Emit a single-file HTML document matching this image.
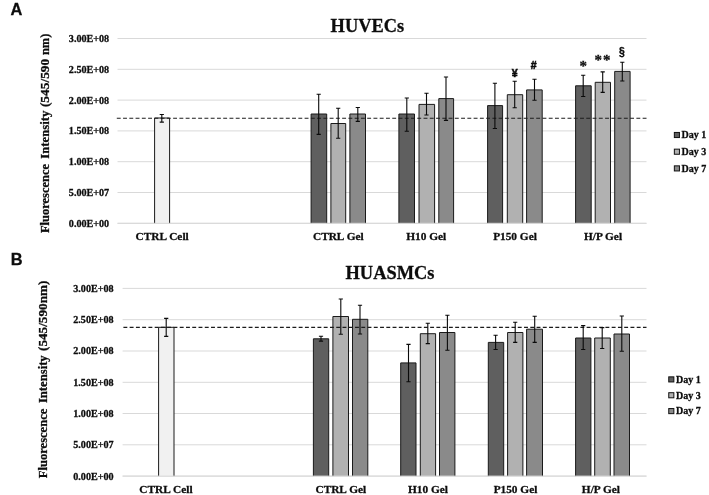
<!DOCTYPE html>
<html><head><meta charset="utf-8"><title>Figure</title>
<style>
html,body{margin:0;padding:0;background:#fff;}
svg{display:block;opacity:0.999;will-change:transform;}
text{fill:#0c0c0c;stroke:#0c0c0c;stroke-width:0.28px;}
.b{font-family:"Liberation Serif",serif;font-weight:bold;}
.s{font-family:"Liberation Sans",sans-serif;font-weight:bold;}
</style></head><body>
<svg width="709" height="495" viewBox="0 0 709 495">
<rect width="709" height="495" fill="#fff"/>
<line x1="117.5" x2="646.5" y1="38.5" y2="38.5" stroke="#d9d9d9" stroke-width="1"/>
<line x1="117.5" x2="646.5" y1="69.3" y2="69.3" stroke="#d9d9d9" stroke-width="1"/>
<line x1="117.5" x2="646.5" y1="100.1" y2="100.1" stroke="#d9d9d9" stroke-width="1"/>
<line x1="117.5" x2="646.5" y1="130.9" y2="130.9" stroke="#d9d9d9" stroke-width="1"/>
<line x1="117.5" x2="646.5" y1="161.7" y2="161.7" stroke="#d9d9d9" stroke-width="1"/>
<line x1="117.5" x2="646.5" y1="192.5" y2="192.5" stroke="#d9d9d9" stroke-width="1"/>
<line x1="117.5" x2="646.5" y1="223.3" y2="223.3" stroke="#d9d9d9" stroke-width="1"/>
<path d="M154.6 223.3V118H169.6V223.3" fill="#f1f1f1" stroke="#1a1a1a" stroke-width="1"/>
<path d="M311.1 223.3V114H326.7V223.3" fill="#5f5f5f" stroke="#1a1a1a" stroke-width="1"/>
<path d="M330.9 223.3V123.5H345.7V223.3" fill="#b1b1b1" stroke="#1a1a1a" stroke-width="1"/>
<path d="M349.9 223.3V114H365.5V223.3" fill="#8a8a8a" stroke="#1a1a1a" stroke-width="1"/>
<path d="M398.9 223.3V114H414.5V223.3" fill="#5f5f5f" stroke="#1a1a1a" stroke-width="1"/>
<path d="M419 223.3V104.4H434.6V223.3" fill="#b1b1b1" stroke="#1a1a1a" stroke-width="1"/>
<path d="M438.8 223.3V98.6H453.6V223.3" fill="#8a8a8a" stroke="#1a1a1a" stroke-width="1"/>
<path d="M487.6 223.3V105.6H502.6V223.3" fill="#5f5f5f" stroke="#1a1a1a" stroke-width="1"/>
<path d="M507.3 223.3V94.7H522.7V223.3" fill="#b1b1b1" stroke="#1a1a1a" stroke-width="1"/>
<path d="M526.6 223.3V89.9H542.2V223.3" fill="#8a8a8a" stroke="#1a1a1a" stroke-width="1"/>
<path d="M575.6 223.3V85.8H591.2V223.3" fill="#5f5f5f" stroke="#1a1a1a" stroke-width="1"/>
<path d="M595.2 223.3V82.3H610.5V223.3" fill="#b1b1b1" stroke="#1a1a1a" stroke-width="1"/>
<path d="M614.7 223.3V71.4H630.1V223.3" fill="#8a8a8a" stroke="#1a1a1a" stroke-width="1"/>
<line x1="117.5" x2="646.5" y1="223.3" y2="223.3" stroke="#d9d9d9" stroke-width="1"/>
<line x1="116.8" x2="646.5" y1="118.2" y2="118.2" stroke="#1c1c1c" stroke-width="1.15" stroke-dasharray="3.9 2.36"/>
<path d="M161.8 114.5V122.1M159.7 114.5H163.9M159.7 122.1H163.9" stroke="#0a0a0a" stroke-width="1.1" fill="none"/>
<path d="M318.7 94.3V134.4M316.6 94.3H320.8M316.6 134.4H320.8" stroke="#0a0a0a" stroke-width="1.1" fill="none"/>
<path d="M338.2 108.2V138.2M336.1 108.2H340.3M336.1 138.2H340.3" stroke="#0a0a0a" stroke-width="1.1" fill="none"/>
<path d="M357.8 107.5V121.4M355.7 107.5H359.9M355.7 121.4H359.9" stroke="#0a0a0a" stroke-width="1.1" fill="none"/>
<path d="M406.8 98V131.3M404.7 98H408.9M404.7 131.3H408.9" stroke="#0a0a0a" stroke-width="1.1" fill="none"/>
<path d="M426.5 93.2V115M424.4 93.2H428.6M424.4 115H428.6" stroke="#0a0a0a" stroke-width="1.1" fill="none"/>
<path d="M446 77V120.4M443.9 77H448.1M443.9 120.4H448.1" stroke="#0a0a0a" stroke-width="1.1" fill="none"/>
<path d="M494.9 83.3V128.5M492.8 83.3H497M492.8 128.5H497" stroke="#0a0a0a" stroke-width="1.1" fill="none"/>
<path d="M514.7 81.3V107.7M512.6 81.3H516.8M512.6 107.7H516.8" stroke="#0a0a0a" stroke-width="1.1" fill="none"/>
<path d="M534.5 79.2V100.3M532.4 79.2H536.6M532.4 100.3H536.6" stroke="#0a0a0a" stroke-width="1.1" fill="none"/>
<path d="M583.2 75.2V96.5M581.1 75.2H585.3M581.1 96.5H585.3" stroke="#0a0a0a" stroke-width="1.1" fill="none"/>
<path d="M602.7 71.9V92.4M600.6 71.9H604.8M600.6 92.4H604.8" stroke="#0a0a0a" stroke-width="1.1" fill="none"/>
<path d="M622.3 62.2V81M620.2 62.2H624.4M620.2 81H624.4" stroke="#0a0a0a" stroke-width="1.1" fill="none"/>
<text x="109.2" y="41.9" text-anchor="end" font-size="10.15" class="b">3.00E+08</text>
<text x="109.2" y="72.7" text-anchor="end" font-size="10.15" class="b">2.50E+08</text>
<text x="109.2" y="103.5" text-anchor="end" font-size="10.15" class="b">2.00E+08</text>
<text x="109.2" y="134.3" text-anchor="end" font-size="10.15" class="b">1.50E+08</text>
<text x="109.2" y="165.1" text-anchor="end" font-size="10.15" class="b">1.00E+08</text>
<text x="109.2" y="195.9" text-anchor="end" font-size="10.15" class="b">5.00E+07</text>
<text x="109.2" y="226.7" text-anchor="end" font-size="10.15" class="b">0.00E+00</text>
<text x="162.1" y="240.3" text-anchor="middle" font-size="11.33" class="b">CTRL Cell</text>
<text x="338.3" y="240.3" text-anchor="middle" font-size="11.33" class="b">CTRL Gel</text>
<text x="426.3" y="240.3" text-anchor="middle" font-size="11.33" class="b">H10 Gel</text>
<text x="515" y="240.3" text-anchor="middle" font-size="11.33" class="b">P150 Gel</text>
<text x="603" y="240.3" text-anchor="middle" font-size="11.33" class="b">H/P Gel</text>
<text x="367.4" y="32.1" text-anchor="middle" font-size="18.4" class="b">HUVECs</text>
<text transform="translate(48.8 233.1) rotate(-90)" textLength="69.2" lengthAdjust="spacingAndGlyphs" font-size="12.7" class="b">Fluorescence</text>
<text transform="translate(48.8 158.7) rotate(-90)" textLength="48.1" lengthAdjust="spacingAndGlyphs" font-size="12.7" class="b">Intensity</text>
<text transform="translate(48.8 107.1) rotate(-90)" textLength="48.3" lengthAdjust="spacingAndGlyphs" font-size="12.7" class="b">(545/590</text>
<text transform="translate(48.8 55.1) rotate(-90)" textLength="21.4" lengthAdjust="spacingAndGlyphs" font-size="12.7" class="b">nm)</text>
<rect x="674.35" y="132.45" width="5.1" height="5.1" fill="#5f5f5f" stroke="#111" stroke-width="1"/>
<text x="681.6" y="138.3" font-size="10" class="b">Day 1</text>
<rect x="674.35" y="149.15" width="5.1" height="5.1" fill="#b1b1b1" stroke="#111" stroke-width="1"/>
<text x="681.6" y="155" font-size="10" class="b">Day 3</text>
<rect x="674.35" y="165.85" width="5.1" height="5.1" fill="#8a8a8a" stroke="#111" stroke-width="1"/>
<text x="681.6" y="171.7" font-size="10" class="b">Day 7</text>
<text transform="translate(514.8 76.6) scale(1,1)" text-anchor="middle" font-size="10.6" class="s" style="stroke-width:0.5px">¥</text>
<text transform="translate(533.7 68.7) scale(1.04,1)" text-anchor="middle" font-size="10.1" class="s" style="stroke-width:0.5px">#</text>
<text transform="translate(583.2 70.8) scale(1,1)" text-anchor="middle" font-size="15.0" class="b" style="stroke-width:0.3px">*</text>
<text transform="translate(598.3 64.9) scale(1,1)" text-anchor="middle" font-size="15.0" class="b" style="stroke-width:0.3px">*</text>
<text transform="translate(606.7 64.9) scale(1,1)" text-anchor="middle" font-size="15.0" class="b" style="stroke-width:0.3px">*</text>
<text transform="translate(622 55.5) scale(0.86,1)" text-anchor="middle" font-size="12.1" class="s" style="stroke-width:0.35px">§</text>
<text x="10.55" y="15.2" font-size="16.4" class="s">A</text>
<line x1="122.6" x2="646.5" y1="288.4" y2="288.4" stroke="#d9d9d9" stroke-width="1"/>
<line x1="122.6" x2="646.5" y1="319.7" y2="319.7" stroke="#d9d9d9" stroke-width="1"/>
<line x1="122.6" x2="646.5" y1="351" y2="351" stroke="#d9d9d9" stroke-width="1"/>
<line x1="122.6" x2="646.5" y1="382.3" y2="382.3" stroke="#d9d9d9" stroke-width="1"/>
<line x1="122.6" x2="646.5" y1="413.5" y2="413.5" stroke="#d9d9d9" stroke-width="1"/>
<line x1="122.6" x2="646.5" y1="444.8" y2="444.8" stroke="#d9d9d9" stroke-width="1"/>
<line x1="122.6" x2="646.5" y1="476.1" y2="476.1" stroke="#d9d9d9" stroke-width="1"/>
<path d="M158.6 476.1V327.3H174V476.1" fill="#f1f1f1" stroke="#1a1a1a" stroke-width="1"/>
<path d="M313.4 476.1V338.8H328.7V476.1" fill="#5f5f5f" stroke="#1a1a1a" stroke-width="1"/>
<path d="M332.9 476.1V316.5H348.5V476.1" fill="#b1b1b1" stroke="#1a1a1a" stroke-width="1"/>
<path d="M352.5 476.1V319.3H367.8V476.1" fill="#8a8a8a" stroke="#1a1a1a" stroke-width="1"/>
<path d="M400.7 476.1V362.9H416V476.1" fill="#5f5f5f" stroke="#1a1a1a" stroke-width="1"/>
<path d="M420.3 476.1V333.7H435.6V476.1" fill="#b1b1b1" stroke="#1a1a1a" stroke-width="1"/>
<path d="M439.5 476.1V332.5H454.9V476.1" fill="#8a8a8a" stroke="#1a1a1a" stroke-width="1"/>
<path d="M488.3 476.1V342.4H503.7V476.1" fill="#5f5f5f" stroke="#1a1a1a" stroke-width="1"/>
<path d="M507.6 476.1V332.5H522.9V476.1" fill="#b1b1b1" stroke="#1a1a1a" stroke-width="1"/>
<path d="M526.6 476.1V329.2H542.5V476.1" fill="#8a8a8a" stroke="#1a1a1a" stroke-width="1"/>
<path d="M575.6 476.1V338H590.9V476.1" fill="#5f5f5f" stroke="#1a1a1a" stroke-width="1"/>
<path d="M594.7 476.1V338H610.3V476.1" fill="#b1b1b1" stroke="#1a1a1a" stroke-width="1"/>
<path d="M614 476.1V334H629.5V476.1" fill="#8a8a8a" stroke="#1a1a1a" stroke-width="1"/>
<line x1="122.6" x2="646.5" y1="476.1" y2="476.1" stroke="#d9d9d9" stroke-width="1"/>
<line x1="123.4" x2="646.5" y1="327.3" y2="327.3" stroke="#1c1c1c" stroke-width="1.15" stroke-dasharray="3.9 2.36"/>
<path d="M166.2 318.4V336.4M164.1 318.4H168.3M164.1 336.4H168.3" stroke="#0a0a0a" stroke-width="1.1" fill="none"/>
<path d="M321 336.3V341.1M318.9 336.3H323.1M318.9 341.1H323.1" stroke="#0a0a0a" stroke-width="1.1" fill="none"/>
<path d="M340.8 299V334.2M338.7 299H342.9M338.7 334.2H342.9" stroke="#0a0a0a" stroke-width="1.1" fill="none"/>
<path d="M360 305.3V334M357.9 305.3H362.1M357.9 334H362.1" stroke="#0a0a0a" stroke-width="1.1" fill="none"/>
<path d="M408.5 344.4V381.7M406.4 344.4H410.6M406.4 381.7H410.6" stroke="#0a0a0a" stroke-width="1.1" fill="none"/>
<path d="M427.8 323.3V343.6M425.7 323.3H429.9M425.7 343.6H429.9" stroke="#0a0a0a" stroke-width="1.1" fill="none"/>
<path d="M447.4 315.2V350.2M445.3 315.2H449.5M445.3 350.2H449.5" stroke="#0a0a0a" stroke-width="1.1" fill="none"/>
<path d="M495.6 335.3V349.5M493.5 335.3H497.7M493.5 349.5H497.7" stroke="#0a0a0a" stroke-width="1.1" fill="none"/>
<path d="M515.2 322.3V342.4M513.1 322.3H517.3M513.1 342.4H517.3" stroke="#0a0a0a" stroke-width="1.1" fill="none"/>
<path d="M534.7 316.2V342.4M532.6 316.2H536.8M532.6 342.4H536.8" stroke="#0a0a0a" stroke-width="1.1" fill="none"/>
<path d="M583.2 325.6V349.5M581.1 325.6H585.3M581.1 349.5H585.3" stroke="#0a0a0a" stroke-width="1.1" fill="none"/>
<path d="M602.2 327.6V348.5M600.1 327.6H604.3M600.1 348.5H604.3" stroke="#0a0a0a" stroke-width="1.1" fill="none"/>
<path d="M621.8 316V351.2M619.7 316H623.9M619.7 351.2H623.9" stroke="#0a0a0a" stroke-width="1.1" fill="none"/>
<text x="113.6" y="291.8" text-anchor="end" font-size="10.15" class="b">3.00E+08</text>
<text x="113.6" y="323.1" text-anchor="end" font-size="10.15" class="b">2.50E+08</text>
<text x="113.6" y="354.4" text-anchor="end" font-size="10.15" class="b">2.00E+08</text>
<text x="113.6" y="385.7" text-anchor="end" font-size="10.15" class="b">1.50E+08</text>
<text x="113.6" y="416.9" text-anchor="end" font-size="10.15" class="b">1.00E+08</text>
<text x="113.6" y="448.2" text-anchor="end" font-size="10.15" class="b">5.00E+07</text>
<text x="113.6" y="479.5" text-anchor="end" font-size="10.15" class="b">0.00E+00</text>
<text x="165.95" y="493" text-anchor="middle" font-size="11.33" class="b">CTRL Cell</text>
<text x="340.8" y="493" text-anchor="middle" font-size="11.33" class="b">CTRL Gel</text>
<text x="428" y="493" text-anchor="middle" font-size="11.33" class="b">H10 Gel</text>
<text x="515.5" y="493" text-anchor="middle" font-size="11.33" class="b">P150 Gel</text>
<text x="600.9" y="493" text-anchor="middle" font-size="11.33" class="b">H/P Gel</text>
<text x="390" y="279.3" text-anchor="middle" font-size="18.4" class="b">HUASMCs</text>
<text transform="translate(47.2 478.3) rotate(-90)" textLength="69.7" lengthAdjust="spacingAndGlyphs" font-size="12.7" class="b">Fluorescence</text>
<text transform="translate(47.2 403.1) rotate(-90)" textLength="47.8" lengthAdjust="spacingAndGlyphs" font-size="12.7" class="b">Intensity</text>
<text transform="translate(47.2 351) rotate(-90)" textLength="70.4" lengthAdjust="spacingAndGlyphs" font-size="12.7" class="b">(545/590nm)</text>
<rect x="668.75" y="376.85" width="5.1" height="5.1" fill="#5f5f5f" stroke="#111" stroke-width="1"/>
<text x="676" y="382.7" font-size="10" class="b">Day 1</text>
<rect x="668.75" y="392.7" width="5.1" height="5.1" fill="#b1b1b1" stroke="#111" stroke-width="1"/>
<text x="676" y="398.55" font-size="10" class="b">Day 3</text>
<rect x="668.75" y="408.55" width="5.1" height="5.1" fill="#8a8a8a" stroke="#111" stroke-width="1"/>
<text x="676" y="414.4" font-size="10" class="b">Day 7</text>
<text x="10.65" y="265.2" font-size="16.4" class="s">B</text>
</svg>
</body></html>
